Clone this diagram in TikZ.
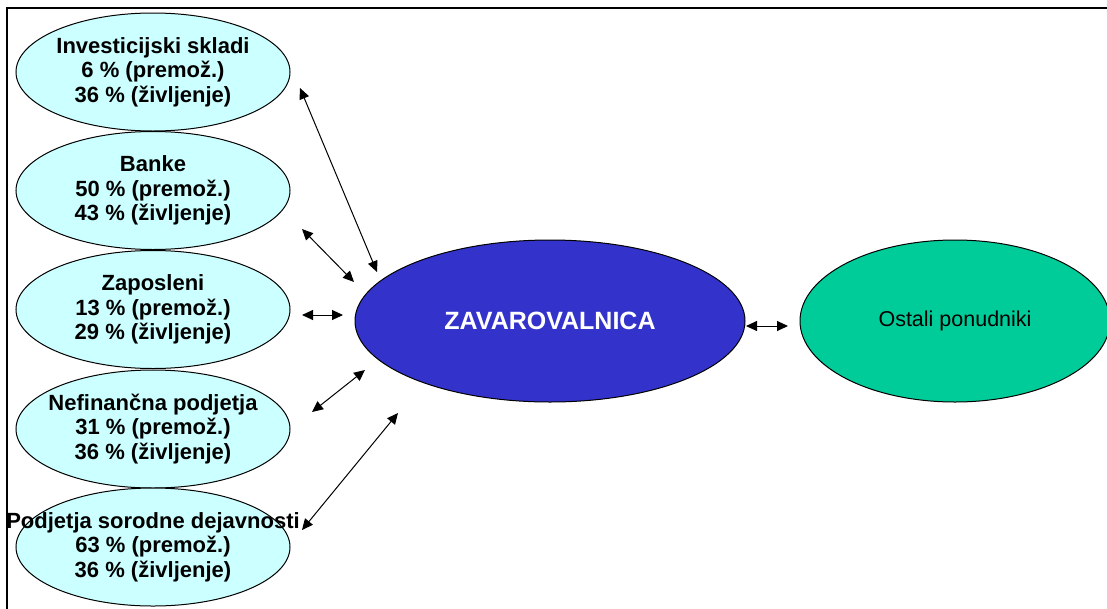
\documentclass[tikz,border=0pt]{standalone}
\usepackage{fontspec}
\setmainfont{Liberation Sans}
\usetikzlibrary{shapes.geometric,arrows.meta}

\definecolor{segcyan}{HTML}{CCFFFF}
\definecolor{zavblue}{HTML}{3333CC}
\definecolor{ostgreen}{HTML}{00CC99}

\tikzset{
  segment/.style={ellipse, draw, line width=1pt, fill=segcyan,
    minimum width=274pt, minimum height=118pt, inner sep=0pt},
  segtext/.style={align=center, inner sep=0pt,
    font=\fontsize{22}{24.5}\selectfont\bfseries},
  link/.style={{Triangle[length=11pt,width=10pt]}-{Triangle[length=11pt,width=10pt]},
    line width=1pt}
}

\begin{document}
\begin{tikzpicture}[x=1pt, y=-1pt]
	\useasboundingbox (0,0) rectangle (1107,608);
	\draw [line width=1.5pt] (7,620) -- (7,8) -- (1120,8);

	% segments on the left
	\node [segment] (inv) at (153,72) {};
	\node [segment] (ban) at (153,190.5) {};
	\node [segment] (zap) at (153,309.5) {};
	\node [segment] (nef) at (153,429) {};
	\node [segment] (pod) at (153,547) {};

	\node [segtext] (invtext) at (inv) {Investicijski skladi\\6 \% (premož.)\\36 \% (življenje)};
	\node [segtext] (bantext) at (ban) {Banke\\50 \% (premož.)\\43 \% (življenje)};
	\node [segtext] (zaptext) at (zap) {Zaposleni\\13 \% (premož.)\\29 \% (življenje)};
	\node [segtext] (neftext) at (nef) {Nefinančna podjetja\\31 \% (premož.)\\36 \% (življenje)};
	\node [segtext] (podtext) at (pod) {Podjetja sorodne dejavnosti\\63 \% (premož.)\\36 \% (življenje)};

	\node [ellipse, draw, line width=1pt, fill=zavblue, minimum width=390pt, minimum height=162pt,
		inner sep=0pt, text=white, font=\fontsize{25}{28}\selectfont\bfseries] (zav) at (550,321) {ZAVAROVALNICA};
	\node [ellipse, draw, line width=1pt, fill=ostgreen, minimum width=310pt, minimum height=162pt,
		inner sep=0pt, font=\fontsize{21.5}{24}\selectfont] (ost) at (955,321) {Ostali ponudniki};

	% arrow ends
	\coordinate (inv-a) at (300,88);
	\coordinate (zav-inv) at (377,272);
	\coordinate (ban-a) at (302,229);
	\coordinate (zav-ban) at (354,282);
	\coordinate (zap-a) at (302,315);
	\coordinate (zav-zap) at (343,315);
	\coordinate (nef-a) at (312,412);
	\coordinate (zav-nef) at (365,370);
	\coordinate (pod-a) at (302,530);
	\coordinate (zav-pod) at (398,413);
	\coordinate (zav-a) at (746,326);
	\coordinate (ost-a) at (788,326);

	\draw [link] (inv-a) -- (zav-inv);
	\draw [link] (ban-a) -- (zav-ban);
	\draw [link] (zap-a) -- (zav-zap);
	\draw [link] (nef-a) -- (zav-nef);
	\draw [link] (pod-a) -- (zav-pod);
	\draw [link] (zav-a) -- (ost-a);
\end{tikzpicture}
\end{document}
